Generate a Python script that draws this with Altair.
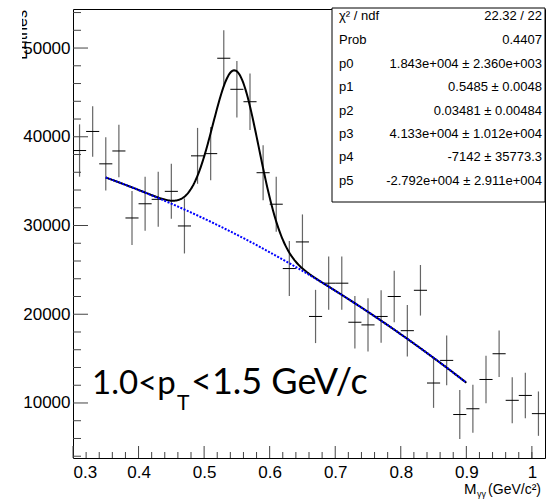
import altair as alt
import numpy as np
import pandas as pd

# ---- data ----
bin_centers = [0.31, 0.33, 0.35, 0.37, 0.39, 0.41, 0.43, 0.45, 0.47, 0.49, 0.51, 0.53,
               0.55, 0.57, 0.59, 0.61, 0.63, 0.65, 0.67, 0.69, 0.71, 0.73, 0.75, 0.77,
               0.79, 0.81, 0.83, 0.85, 0.87, 0.89, 0.91, 0.93, 0.95, 0.97, 0.99, 1.01]
counts = [38450, 40600, 36950, 38400, 30850, 32450, 32950, 33850, 29950, 37850, 38100, 48850,
          45350, 43950, 35950, 32400, 25150, 28150, 19750, 23500, 23500, 19100, 18800, 19750,
          22000, 18150, 22700, 12250, 14800, 8700, 9350, 12650, 15550, 10300, 10850, 8800]
errors = [2950, 2850, 3000, 2950, 3050, 3050, 3100, 3100, 3100, 3150, 3000, 3150,
          3180, 3190, 3100, 3100, 3100, 3100, 3000, 3000, 3000, 2950, 3000, 2950,
          2900, 2900, 2850, 2800, 2800, 2750, 2700, 2680, 2620, 2590, 2570, 2500]
bin_width = 0.02

# fit parameters (from the stats box): gaus(p0,p1,p2) + pol2(p3,p4,p5)
fit_params = [1.843e4, 0.5485, 0.03481, 4.133e4, -7142.0, -2.792e4]
fit_range = [0.35, 0.90]

stat_labels = ["χ² / ndf", "Prob", "p0", "p1", "p2", "p3", "p4", "p5"]
stat_values = ["22.32 / 22", "0.4407", "1.843e+004 ± 2.360e+003", "0.5485 ± 0.0048",
               "0.03481 ± 0.00484", "4.133e+004 ± 1.012e+004", "-7142 ± 35773.3",
               "-2.792e+004 ± 2.911e+004"]

x_major = [0.3, 0.4, 0.5, 0.6, 0.7, 0.8, 0.9, 1.0]
x_minor = [0.32, 0.34, 0.36, 0.38, 0.42, 0.44, 0.46, 0.48, 0.52, 0.54, 0.56, 0.58,
           0.62, 0.64, 0.66, 0.68, 0.72, 0.74, 0.76, 0.78, 0.82, 0.84, 0.86, 0.88,
           0.92, 0.94, 0.96, 0.98, 1.0]
y_major = [10000, 20000, 30000, 40000, 50000]
y_minor = [4000, 6000, 8000, 12000, 14000, 16000, 18000, 22000, 24000, 26000, 28000,
           32000, 34000, 36000, 38000, 42000, 44000, 46000, 48000, 52000, 54000]

# ---- build tables ----
W, H = 472, 449
XD = [0.3, 1.02]
YD = [3800, 54400]
NARROW = "Liberation Sans Narrow, Liberation Sans, Arial"

pts = pd.DataFrame({"x": bin_centers, "y": counts, "e": errors})
pts["lo"] = pts["y"] - pts["e"]
pts["hi"] = pts["y"] + pts["e"]
pts["xl"] = pts["x"] - bin_width / 2
pts["xr"] = pts["x"] + bin_width / 2

xs = np.linspace(fit_range[0], fit_range[1], 400)
p0, p1, p2, p3, p4, p5 = fit_params
bg = p3 + p4 * xs + p5 * xs ** 2
total = p0 * np.exp(-0.5 * ((xs - p1) / p2) ** 2) + bg
curve = pd.DataFrame({"x": xs, "total": total, "bg": bg})

xs_ = alt.Scale(domain=XD, nice=False, zero=False)
ys_ = alt.Scale(domain=YD, nice=False, zero=False)

base = alt.Chart(pts)

err_v = base.mark_rule(color="#666666", strokeWidth=1.2).encode(
    x=alt.X("x:Q", scale=xs_,
            axis=alt.Axis(values=x_major, format="~g", ticks=False, domain=False, grid=False,
                          labelFont=NARROW, labelFontSize=17, labelColor="black",
                          labelPadding=6, title=None)),
    y=alt.Y("lo:Q", scale=ys_,
            axis=alt.Axis(values=y_major, format="d", ticks=False, domain=False, grid=False,
                          labelFont=NARROW, labelFontSize=17, labelColor="black",
                          labelPadding=3, title=None)),
    y2="hi:Q",
)
err_h = base.mark_rule(color="black", strokeWidth=1).encode(
    x=alt.X("xl:Q", scale=xs_), x2="xr:Q", y=alt.Y("y:Q", scale=ys_)
)

fit_line = alt.Chart(curve).mark_line(color="black", strokeWidth=2).encode(
    x=alt.X("x:Q", scale=xs_), y=alt.Y("total:Q", scale=ys_)
)
bg_line = alt.Chart(curve).mark_line(color="#0000ff", strokeWidth=2, strokeDash=[2, 1.5]).encode(
    x=alt.X("x:Q", scale=xs_), y=alt.Y("bg:Q", scale=ys_)
)

# inside ticks (ROOT style)
xt_major = alt.Chart(pd.DataFrame({"v": x_major})).mark_rule(color="#444", strokeWidth=1).encode(
    x=alt.X("v:Q", scale=xs_), y=alt.value(H), y2=alt.value(H - 12))
xt_minor = alt.Chart(pd.DataFrame({"v": x_minor})).mark_rule(color="#444", strokeWidth=1).encode(
    x=alt.X("v:Q", scale=xs_), y=alt.value(H), y2=alt.value(H - 6))
yt_major = alt.Chart(pd.DataFrame({"v": y_major})).mark_rule(color="#444", strokeWidth=1).encode(
    y=alt.Y("v:Q", scale=ys_), x=alt.value(0), x2=alt.value(15))
yt_minor = alt.Chart(pd.DataFrame({"v": y_minor})).mark_rule(color="#444", strokeWidth=1).encode(
    y=alt.Y("v:Q", scale=ys_), x=alt.value(0), x2=alt.value(8))

one = pd.DataFrame({"a": [0]})

def txt(t, x, y, size, font=NARROW, align="left", baseline="middle", angle=0, color="black"):
    kw = dict(font=font, fontSize=size, align=align, baseline=baseline, color=color)
    if angle:
        kw["angle"] = angle
    return alt.Chart(pd.DataFrame({"t": [t]})).mark_text(**kw).encode(
        text="t:N", x=alt.value(x), y=alt.value(y))

# stats box
box = alt.Chart(one).mark_rect(fill="white", stroke="black", strokeWidth=1).encode(
    x=alt.value(259), x2=alt.value(472), y=alt.value(-1), y2=alt.value(193))
row_y = [7, 31, 54.5, 78, 101.5, 125, 148, 171.5]
stat_layers = []
for lab, val, ry in zip(stat_labels, stat_values, row_y):
    stat_layers.append(txt(lab, 266, ry, 13))
    stat_layers.append(txt(val, 469, ry, 13, align="right"))

# big pT label
BIG = "Lato"
lab1 = txt("1.0<p", 19, 385, 33, font=BIG, baseline="alphabetic")
lab2 = txt("T", 104, 400.5, 21, font=BIG, baseline="alphabetic")
lab3 = txt("<1.5 GeV/c", 118, 385, 36, font=BIG, baseline="alphabetic")

# x-axis title
xt1 = txt("M", 391, 485, 15, baseline="alphabetic")
xt2 = txt("γγ", 404, 488, 9, baseline="alphabetic")
xt3 = txt("(GeV/c²)", 468, 485, 14, align="right", baseline="alphabetic")

# y-axis title (partly hidden at the left edge, as in the original)
yt = txt("Entries", -46, 1, 16, align="right", baseline="alphabetic", angle=270)
cover = alt.Chart(one).mark_rect(fill="white").encode(
    x=alt.value(-73), x2=alt.value(-51), y=alt.value(-9), y2=alt.value(70))

chart = alt.layer(
    err_v, err_h, xt_major, xt_minor, yt_major, yt_minor,
    fit_line, bg_line, box, *stat_layers, lab1, lab2, lab3, xt1, xt2, xt3, yt, cover
).properties(
    width=W, height=H,
    autosize=alt.AutoSizeParams(type="none"),
    padding={"left": 73, "top": 9, "right": 3, "bottom": 42},
    background="white",
).configure_view(stroke="black", strokeWidth=1)

chart.save("out.html", embed_options={"renderer": "svg", "actions": False})
